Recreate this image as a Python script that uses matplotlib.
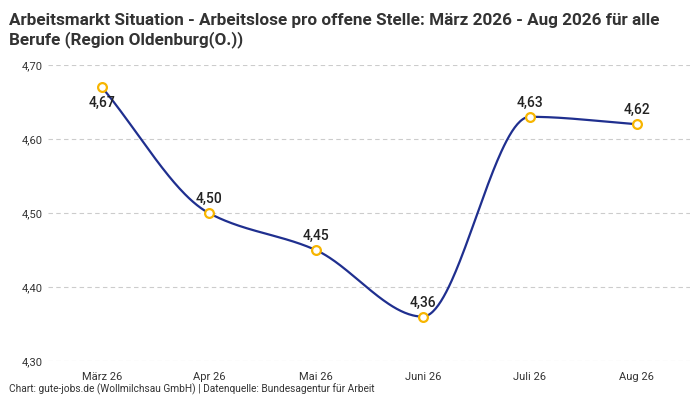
import numpy as np
import matplotlib
matplotlib.use("Agg")
import matplotlib.pyplot as plt

categories = ["März 26", "Apr 26", "Mai 26", "Juni 26", "Juli 26", "Aug 26"]
values = [4.67, 4.50, 4.45, 4.36, 4.63, 4.62]
yticks = [4.30, 4.40, 4.50, 4.60, 4.70]

plt.rcParams['font.family'] = ['Roboto', 'DejaVu Sans']

def monotone(x, y, n=400):
    x = np.asarray(x, float); y = np.asarray(y, float)
    h = np.diff(x); d = np.diff(y) / h
    m = np.zeros_like(y)
    m[0] = d[0]; m[-1] = d[-1]
    for i in range(1, len(y) - 1):
        if d[i-1] * d[i] <= 0:
            m[i] = 0
        else:
            w1 = 2*h[i] + h[i-1]; w2 = h[i] + 2*h[i-1]
            m[i] = (w1 + w2) / (w1/d[i-1] + w2/d[i])
    xs = np.linspace(x[0], x[-1], n); ys = np.empty_like(xs)
    for k, xv in enumerate(xs):
        i = min(np.searchsorted(x, xv, side='right') - 1, len(x) - 2)
        t = (xv - x[i]) / h[i]
        h00 = 2*t**3 - 3*t**2 + 1; h10 = t**3 - 2*t**2 + t
        h01 = -2*t**3 + 3*t**2; h11 = t**3 - t**2
        ys[k] = h00*y[i] + h10*h[i]*m[i] + h01*y[i+1] + h11*h[i]*m[i+1]
    return xs, ys

fig = plt.figure(figsize=(7, 4), dpi=100)
ax = fig.add_axes([0.069, 0.0975, 0.917, 0.74])
x = np.arange(len(values))
xs, ys = monotone(x, values)
ax.plot(xs, ys, color="#1f2f8f", lw=1.6, zorder=2)
ax.scatter(x, values, s=40, facecolor="white", edgecolor="#f7b500", linewidths=1.6, zorder=3)
for i, v in enumerate(values):
    lab = f"{v:.2f}".replace(".", ",")
    if i == 0:
        ax.annotate(lab, (i, v), xytext=(0, -6), textcoords="offset points", ha="center", va="top", fontsize=10, fontweight="medium", color="#222")
    else:
        ax.annotate(lab, (i, v), xytext=(0, 5), textcoords="offset points", ha="center", va="bottom", fontsize=10, fontweight="medium", color="#222")

ax.set_xlim(-0.5, 5.5)
ax.set_ylim(4.30, 4.70)
ax.set_xticks(x)
ax.set_xticklabels(categories, fontsize=8, color="#333")
ax.set_yticks(yticks)
ax.set_yticklabels([f"{t:.2f}".replace(".", ",") for t in yticks], fontsize=8, color="#333")
ax.grid(axis="y", color="#cccccc", ls=(0, (4, 3)), lw=0.8)
for s in ax.spines.values():
    s.set_visible(False)
ax.tick_params(length=0, pad=8)
ax.tick_params(axis="y", pad=4)

fig.text(0.013, 0.968, "Arbeitsmarkt Situation - Arbeitslose pro offene Stelle: März 2026 - Aug 2026 für alle\nBerufe (Region Oldenburg(O.))",
         fontsize=12.3, fontweight="bold", color="#333", va="top", ha="left", linespacing=1.25)
fig.text(0.013, 0.013, "Chart: gute-jobs.de (Wollmilchsau GmbH) | Datenquelle: Bundesagentur für Arbeit",
         fontsize=7.3, color="#333", ha="left", va="bottom")
fig.savefig("out.png", dpi=100)
